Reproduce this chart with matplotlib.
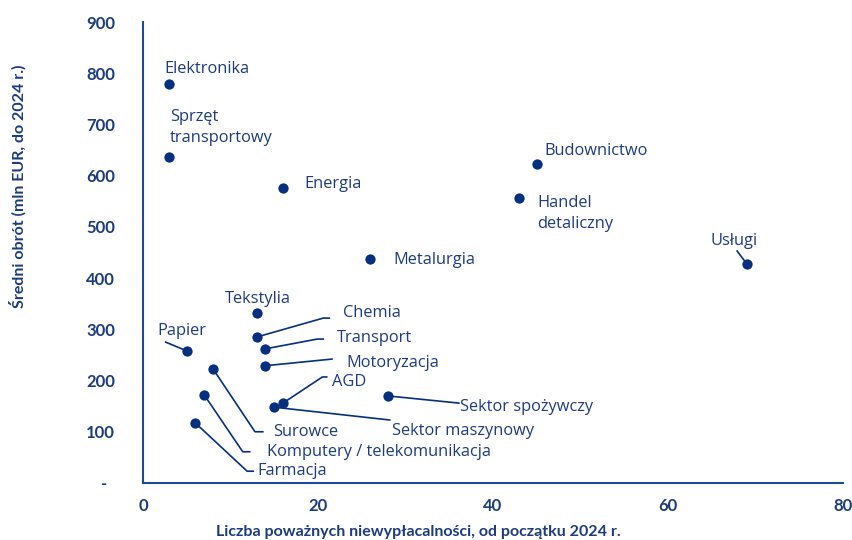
import matplotlib
matplotlib.use("Agg")
import matplotlib.pyplot as plt

# sectors and values
sectors = ["Elektronika", "Sprzęt\ntransportowy", "Energia", "Metalurgia", "Budownictwo",
           "Handel\ndetaliczny", "Usługi", "Tekstylia", "Chemia", "Transport", "Motoryzacja",
           "AGD", "Sektor maszynowy", "Sektor spożywczy", "Papier", "Surowce",
           "Komputery / telekomunikacja", "Farmacja"]
insolvencies = [3, 3, 16, 26, 45, 43, 69, 13, 13, 14, 14, 16, 15, 28, 5, 8, 7, 6]
turnover = [780, 637, 576, 437, 623, 557, 428, 332, 285, 262, 229, 156, 148, 170, 258, 223, 172, 117]

x_ticks = [0, 20, 40, 60, 80]
y_ticks = [0, 100, 200, 300, 400, 500, 600, 700, 800, 900]
y_tick_labels = ["-  ", "100", "200", "300", "400", "500", "600", "700", "800", "900"]

# label placement: text position, horizontal alignment, connector elbows (None = no line)
label_pos = {
    "Elektronika": ((2.4, 808), "left", None),
    "Sprzęt\ntransportowy": ((3.1, 695), "left", None),
    "Energia": ((18.4, 584), "left", None),
    "Metalurgia": ((28.6, 435), "left", None),
    "Budownictwo": ((45.9, 648), "left", None),
    "Handel\ndetaliczny": ((45.1, 527), "left", None),
    "Usługi": ((67.5, 472), "center", [(67.9, 453)]),
    "Tekstylia": ((9.4, 359), "left", None),
    "Chemia": ((22.9, 332), "left", [(20.6, 322), (21.3, 322)]),
    "Transport": ((22.2, 283), "left", [(19.9, 281), (20.6, 281)]),
    "Motoryzacja": ((23.3, 234), "left", [(21.6, 242)]),
    "AGD": ((21.6, 197), "left", [(20.5, 207), (21.0, 207)]),
    "Sektor maszynowy": ((28.5, 102), "left", [(28.2, 123)]),
    "Sektor spożywczy": ((36.2, 148), "left", [(36.1, 156)]),
    "Papier": ((1.6, 297), "left", [(2.6, 275)]),
    "Surowce": ((14.9, 100), "left", [(12.8, 100), (13.7, 100)]),
    "Komputery / telekomunikacja": ((14.2, 61), "left", [(11.4, 61), (12.2, 61)]),
    "Farmacja": ((13.1, 23), "left", [(11.9, 23), (12.6, 23)]),
}

navy = "#06307e"
text_col = "#1c3c7c"
spine_col = "#1d4b9b"
bold_family = ["Lato", "DejaVu Sans"]

plt.rcParams["font.family"] = ["Open Sans", "DejaVu Sans"]

fig = plt.figure(figsize=(8.53, 5.4), dpi=100)
ax = fig.add_axes([0.1676, 0.1056, 0.8207, 0.8534])

ax.scatter(insolvencies, turnover, s=55, color=navy, zorder=3, linewidths=0)

for name, x, y in zip(sectors, insolvencies, turnover):
    (tx, ty), ha, elbows = label_pos[name]
    if elbows:
        xs = [x] + [e[0] for e in elbows]
        ys = [y] + [e[1] for e in elbows]
        ax.plot(xs, ys, color=navy, lw=1.2, zorder=2)
    ax.text(tx, ty, name, ha=ha, va="center", fontsize=11.8, color=text_col,
            linespacing=1.4)

ax.set_xlim(0, 80)
ax.set_ylim(0, 900)
ax.set_xticks(x_ticks)
ax.set_yticks(y_ticks)
ax.set_yticklabels(y_tick_labels)
ax.tick_params(length=0, labelsize=12, labelcolor=text_col)
ax.tick_params(axis="x", pad=11)
ax.tick_params(axis="y", pad=20)
for lab in ax.get_xticklabels() + ax.get_yticklabels():
    lab.set_fontweight("bold")
    lab.set_family(bold_family)

for side in ["top", "right"]:
    ax.spines[side].set_visible(False)
for side in ["left", "bottom"]:
    ax.spines[side].set_color(spine_col)
    ax.spines[side].set_linewidth(1.5)

fig.text(418 / 853, 1 - 532 / 540, "Liczba poważnych niewypłacalności, od początku 2024 r.",
         ha="center", va="center", fontsize=11.5, fontweight="bold", color=text_col,
         family=bold_family)
fig.text(18 / 853, 1 - 186 / 540, "Średni obrót (mln EUR, do 2024 r.)", rotation=90,
         ha="center", va="center", fontsize=11.5, fontweight="bold", color=text_col,
         family=bold_family)

fig.savefig("out.png", dpi=100)
